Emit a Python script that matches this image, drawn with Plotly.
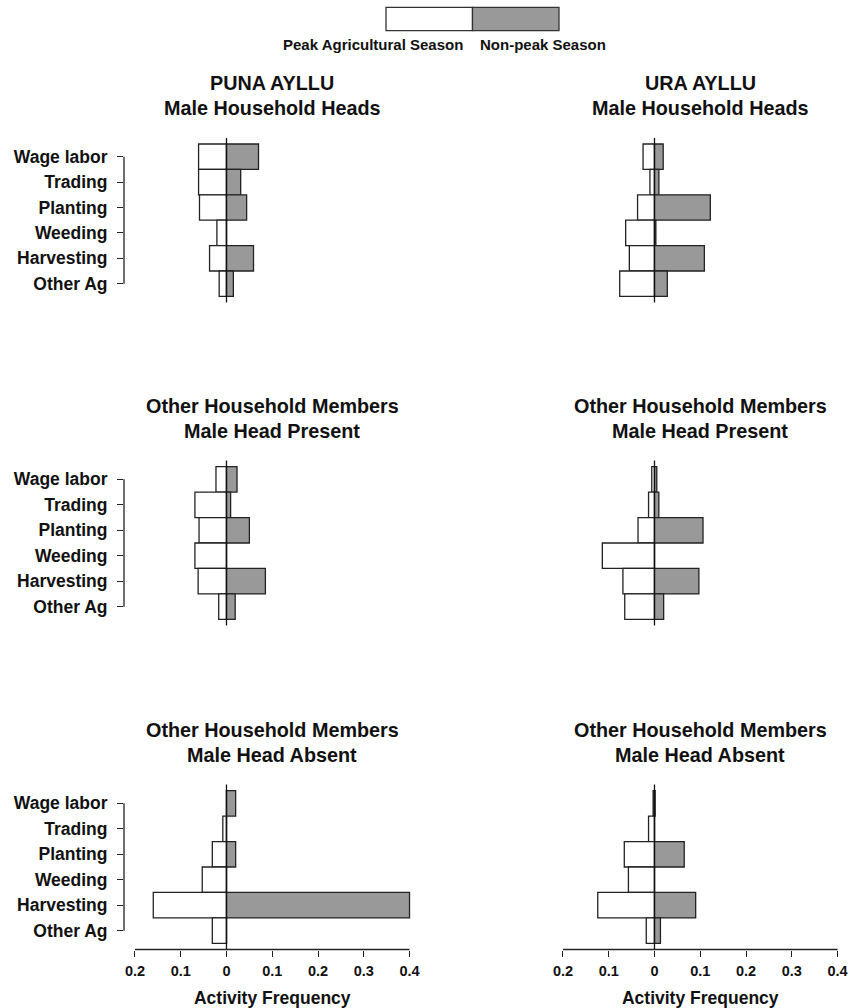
import plotly.graph_objects as go

# Activity categories, top to bottom
categories = ["Wage labor", "Trading", "Planting", "Weeding", "Harvesting", "Other Ag"]

# Activity frequencies: peak agricultural season vs non-peak season
puna_heads_peak = [0.061, 0.061, 0.059, 0.021, 0.037, 0.016]
puna_heads_nonpeak = [0.070, 0.031, 0.044, 0.0, 0.059, 0.015]
ura_heads_peak = [0.025, 0.010, 0.037, 0.063, 0.055, 0.076]
ura_heads_nonpeak = [0.019, 0.0096, 0.122, 0.003, 0.109, 0.028]

puna_present_peak = [0.023, 0.069, 0.060, 0.069, 0.062, 0.017]
puna_present_nonpeak = [0.023, 0.009, 0.050, 0.0, 0.085, 0.019]
ura_present_peak = [0.006, 0.013, 0.036, 0.114, 0.069, 0.065]
ura_present_nonpeak = [0.005, 0.0095, 0.106, 0.0, 0.097, 0.020]

puna_absent_peak = [0.0, 0.008, 0.031, 0.053, 0.160, 0.031]
puna_absent_nonpeak = [0.020, 0.0, 0.020, 0.0, 0.400, 0.0]
ura_absent_peak = [0.003, 0.013, 0.066, 0.057, 0.124, 0.018]
ura_absent_nonpeak = [0.0015, 0.0, 0.065, 0.0, 0.090, 0.013]

x_tickvals = [-0.2, -0.1, 0, 0.1, 0.2, 0.3, 0.4]
x_ticktext = ["0.2", "0.1", "0", "0.1", "0.2", "0.3", "0.4"]

panel_titles = [
    ("PUNA AYLLU", "Male Household Heads"),
    ("URA AYLLU", "Male Household Heads"),
    ("Other Household Members", "Male Head Present"),
    ("Other Household Members", "Male Head Present"),
    ("Other Household Members", "Male Head Absent"),
    ("Other Household Members", "Male Head Absent"),
]
panel_data = [
    (puna_heads_peak, puna_heads_nonpeak),
    (ura_heads_peak, ura_heads_nonpeak),
    (puna_present_peak, puna_present_nonpeak),
    (ura_present_peak, ura_present_nonpeak),
    (puna_absent_peak, puna_absent_nonpeak),
    (ura_absent_peak, ura_absent_nonpeak),
]

W, H = 861, 1008
FONT = "Liberation Sans, Arial, Helvetica, sans-serif"
INK = "#111111"
GRAY = "#999999"
EDGE = "#222222"

# panel geometry in pixels
col_px = [(124, 420.5), (552, 848.5)]
row_px = [(137.9, 302.5), (460.5, 625.5), (784.5, 949.5)]


def px_x(v):
    return v / W


def px_y(v):
    return 1 - v / H


fig = go.Figure()
layout = dict(
    width=W, height=H,
    margin=dict(l=0, r=0, t=0, b=0),
    paper_bgcolor="white", plot_bgcolor="white",
    barmode="overlay", showlegend=False,
    font=dict(family=FONT, color=INK),
    template="none",
)
shapes = []
annotations = []

ypos = list(range(len(categories)))

for i, ((peak, nonpeak), (t1, t2)) in enumerate(zip(panel_data, panel_titles)):
    n = i + 1
    r, c = divmod(i, 2)
    xa = "x" if n == 1 else f"x{n}"
    ya = "y" if n == 1 else f"y{n}"
    xkey = "xaxis" if n == 1 else f"xaxis{n}"
    ykey = "yaxis" if n == 1 else f"yaxis{n}"

    fig.add_trace(go.Bar(
        orientation="h", y=ypos, x=[-v for v in peak], width=1.0,
        marker=dict(color="white", line=dict(color=EDGE, width=1.3)),
        xaxis=xa, yaxis=ya, hoverinfo="skip", name="Peak Agricultural Season",
    ))
    fig.add_trace(go.Bar(
        orientation="h", y=ypos, x=nonpeak, width=1.0,
        marker=dict(color=GRAY, line=dict(color=EDGE, width=1.3)),
        xaxis=xa, yaxis=ya, hoverinfo="skip", name="Non-peak Season",
    ))

    x0p, x1p = col_px[c]
    y0p, y1p = row_px[r]
    bottom = r == 2
    layout[xkey] = dict(
        domain=[px_x(x0p), px_x(x1p)], range=[-0.224, 0.424],
        anchor=ya, showgrid=False, zeroline=False, showline=False,
        tickvals=x_tickvals if bottom else [], ticktext=x_ticktext if bottom else [],
        ticks="outside" if bottom else "", ticklen=6, tickwidth=1.3, tickcolor=EDGE,
        showticklabels=bottom, ticklabelstandoff=2,
        tickfont=dict(family=FONT, size=14.5, color=INK, weight="bold"),
        title=dict(text="Activity Frequency" if bottom else "",
                   font=dict(family=FONT, size=17.5, color=INK, weight="bold"),
                   standoff=15),
        automargin=False, fixedrange=True,
    )
    left = c == 0
    layout[ykey] = dict(
        domain=[px_y(y1p), px_y(y0p)], range=[5.74, -0.74],
        anchor=xa, showgrid=False, zeroline=False, showline=False,
        tickvals=ypos if left else [], ticktext=categories if left else [],
        ticks="outside" if left else "", ticklen=6, tickwidth=1.3, tickcolor=EDGE,
        showticklabels=left, ticklabelstandoff=6,
        tickfont=dict(family=FONT, size=17.5, color=INK, weight="bold"),
        automargin=False, fixedrange=True,
    )

    # zero reference line across the panel
    shapes.append(dict(type="line", xref=xa, yref=f"{ya} domain", x0=0, x1=0, y0=0, y1=1,
                       line=dict(color=INK, width=1.3), layer="above"))
    # category axis line spanning first to last tick
    if left:
        shapes.append(dict(type="line", xref=f"{xa} domain", yref=ya, x0=0, x1=0,
                           y0=ypos[0], y1=ypos[-1], line=dict(color=EDGE, width=1.3)))
    # value axis line spanning first to last tick
    if bottom:
        shapes.append(dict(type="line", xref=xa, yref=f"{ya} domain",
                           x0=x_tickvals[0], x1=x_tickvals[-1], y0=0, y1=0,
                           line=dict(color=EDGE, width=1.3)))

    cx = px_x((x0p + x1p) / 2)
    for text, dy in ((t1, -55), (t2, -29.5)):
        annotations.append(dict(
            text=text, xref="paper", yref="paper", x=cx, y=px_y(y0p + dy),
            xanchor="center", yanchor="middle", showarrow=False,
            font=dict(family=FONT, size=19.8, color=INK, weight="bold"),
        ))

# season key at the top
shapes.append(dict(type="rect", xref="paper", yref="paper",
                   x0=px_x(386), x1=px_x(472.5), y0=px_y(30.7), y1=px_y(7.3),
                   fillcolor="white", line=dict(color="#333333", width=1.3)))
shapes.append(dict(type="rect", xref="paper", yref="paper",
                   x0=px_x(472.5), x1=px_x(559), y0=px_y(30.7), y1=px_y(7.3),
                   fillcolor=GRAY, line=dict(color="#333333", width=1.3)))
annotations.append(dict(text="Peak Agricultural Season", xref="paper", yref="paper",
                        x=px_x(465), y=px_y(45), xanchor="right", yanchor="middle",
                        showarrow=False,
                        font=dict(family=FONT, size=15, color=INK, weight="bold")))
annotations.append(dict(text="Non-peak Season", xref="paper", yref="paper",
                        x=px_x(478), y=px_y(45), xanchor="left", yanchor="middle",
                        showarrow=False,
                        font=dict(family=FONT, size=15, color=INK, weight="bold")))

layout["shapes"] = shapes
layout["annotations"] = annotations
fig.update_layout(**layout)
fig.write_html("out.html")
